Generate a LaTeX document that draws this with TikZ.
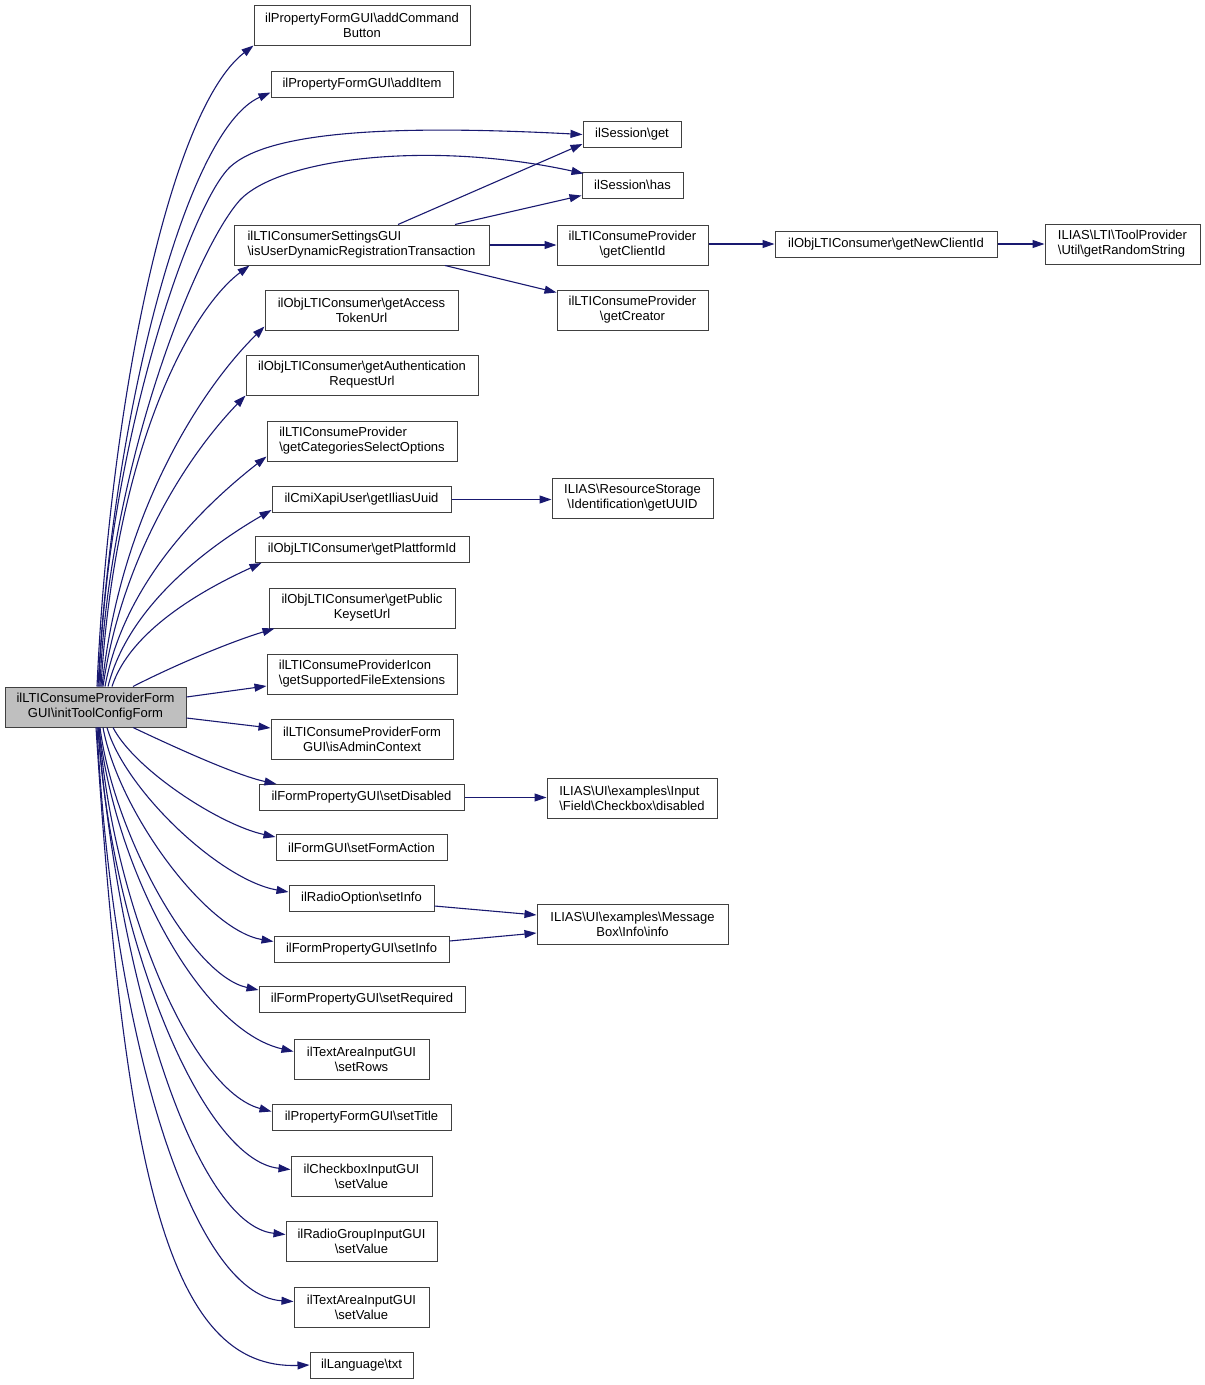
\documentclass[tikz,border=0pt]{standalone}
\usepackage{fontspec}
\setmainfont{Liberation Sans}
\usetikzlibrary{arrows.meta}

\definecolor{callblue}{HTML}{191970}
\newcommand{\bsl}{\textbackslash}

\begin{document}
\begin{tikzpicture}[x=1pt,y=-1pt,>={Triangle[length=12pt,width=8pt]}]

	\tikzstyle{fn}    = [rectangle, draw=black!75, line width=1pt, fill=white, inner sep=0pt, minimum height=26pt, font=\fontsize{13}{15}\selectfont, align=center]
	\tikzstyle{fn2}   = [fn, minimum height=40pt]
	\tikzstyle{call}  = [->, draw=callblue, line width=1.1pt]

	\useasboundingbox (0,0) rectangle (1205,1385);

	% caller
	\node [fn2, fill=black!25, minimum width=181pt] (main) at (95.5,707) {ilLTIConsumeProviderForm\\GUI\bsl initToolConfigForm};

	% callees
	\node [fn2, minimum width=216pt] (cmdbtn)   at (362,25)     {ilPropertyFormGUI\bsl addCommand\\Button};
	\node [fn,  minimum width=182pt] (additem)  at (362,84)     {ilPropertyFormGUI\bsl addItem};
	\node [fn2, minimum width=255pt, align=left] (isdyn) at (361.5,245) {ilLTIConsumerSettingsGUI\\\bsl isUserDynamicRegistrationTransaction};
	\node [fn2, minimum width=193pt] (token)    at (361.5,310)  {ilObjLTIConsumer\bsl getAccess\\TokenUrl};
	\node [fn2, minimum width=232pt] (auth)     at (362,375)    {ilObjLTIConsumer\bsl getAuthentication\\RequestUrl};
	\node [fn2, minimum width=190pt, align=left] (categ) at (362,441) {ilLTIConsumeProvider\\\bsl getCategoriesSelectOptions};
	\node [fn,  minimum width=179pt] (uuid)     at (361.5,499.5) {ilCmiXapiUser\bsl getIliasUuid};
	\node [fn,  minimum width=214pt] (platt)    at (362,549.5)  {ilObjLTIConsumer\bsl getPlattformId};
	\node [fn2, minimum width=186pt] (keyset)   at (362,608)    {ilObjLTIConsumer\bsl getPublic\\KeysetUrl};
	\node [fn2, minimum width=190pt, align=left] (fileext) at (362,674) {ilLTIConsumeProviderIcon\\\bsl getSupportedFileExtensions};
	\node [fn2, minimum width=182pt] (admin)    at (362,739)    {ilLTIConsumeProviderForm\\GUI\bsl isAdminContext};
	\node [fn,  minimum width=205pt] (setdis)   at (361.5,797.5) {ilFormPropertyGUI\bsl setDisabled};
	\node [fn,  minimum width=171pt] (formact)  at (361.5,847.5) {ilFormGUI\bsl setFormAction};
	\node [fn,  minimum width=145pt] (rsetinfo) at (361.5,898.5) {ilRadioOption\bsl setInfo};
	\node [fn,  minimum width=175pt] (fsetinfo) at (361.5,949)  {ilFormPropertyGUI\bsl setInfo};
	\node [fn,  minimum width=206pt] (setreq)   at (362,999.5)  {ilFormPropertyGUI\bsl setRequired};
	\node [fn2, minimum width=135pt] (setrows)  at (361.5,1059) {ilTextAreaInputGUI\\\bsl setRows};
	\node [fn,  minimum width=179pt] (settitle) at (361.5,1117) {ilPropertyFormGUI\bsl setTitle};
	\node [fn2, minimum width=141pt] (cbvalue)  at (361.5,1176) {ilCheckboxInputGUI\\\bsl setValue};
	\node [fn2, minimum width=151pt] (rgvalue)  at (361.5,1241) {ilRadioGroupInputGUI\\\bsl setValue};
	\node [fn2, minimum width=135pt] (tavalue)  at (361.5,1307) {ilTextAreaInputGUI\\\bsl setValue};
	\node [fn,  minimum width=103pt] (txt)      at (361.5,1365) {ilLanguage\bsl txt};

	% second level
	\node [fn,  minimum width=98pt]  (sget)     at (632,134.5)  {ilSession\bsl get};
	\node [fn,  minimum width=101pt] (shas)     at (632.5,185)  {ilSession\bsl has};
	\node [fn2, minimum width=151pt] (getclient) at (632.5,245) {ilLTIConsumeProvider\\\bsl getClientId};
	\node [fn2, minimum width=151pt] (creator)  at (632.5,310)  {ilLTIConsumeProvider\\\bsl getCreator};
	\node [fn2, minimum width=161pt] (getuuid)  at (632.5,498)  {ILIAS\bsl ResourceStorage\\\bsl Identification\bsl getUUID};
	\node [fn2, minimum width=170pt, align=left] (disabled) at (632,798) {ILIAS\bsl UI\bsl examples\bsl Input\\\bsl Field\bsl Checkbox\bsl disabled};
	\node [fn2, minimum width=191pt] (info)     at (632.5,924.5) {ILIAS\bsl UI\bsl examples\bsl Message\\Box\bsl Info\bsl info};
	\node [fn,  minimum width=222pt] (newclient) at (886,244)   {ilObjLTIConsumer\bsl getNewClientId};
	\node [fn2, minimum width=155pt, align=left] (randstr) at (1122.5,244) {ILIAS\bsl LTI\bsl ToolProvider\\\bsl Util\bsl getRandomString};

	% calls going up
	\draw [call] ([xshift=1.5pt]main.north) .. controls (110,400) and (170,110) .. (cmdbtn.south west);
	\draw [call] ([xshift=2.5pt]main.north) .. controls (112,420) and (185,130) .. ([yshift=5pt]additem.south west);
	\draw [call] ([xshift=3.5pt]main.north) .. controls (106,450) and (190,205) .. (230,167)
		.. controls (270,130) and (400,125) .. (sget.west);
	\draw [call] ([xshift=4.5pt]main.north) .. controls (108,470) and (195,250) .. (240,200)
		.. controls (280,158) and (430,140) .. ([xshift=2pt,yshift=-2pt]shas.north west);
	\draw [call] ([xshift=5.5pt]main.north) .. controls (115,450) and (190,310) .. ([xshift=16pt]isdyn.south west);
	\draw [call] ([xshift=6.5pt]main.north) .. controls (120,515) and (200,390) .. ([yshift=4pt]token.south west);
	\draw [call] ([xshift=7.5pt]main.north) .. controls (122,556) and (188,455) .. (auth.south west);
	\draw [call] ([xshift=9.5pt]main.north) .. controls (124,583) and (202,507) .. ([yshift=5pt]categ.south west);
	\draw [call] ([xshift=12.5pt]main.north) .. controls (128,607) and (206,548) .. ([yshift=3pt]uuid.south west);
	\draw [call] ([xshift=16.5pt]main.north) .. controls (130,631) and (202,590) .. ([xshift=7pt]platt.south west);
	\draw [call] ([xshift=37.5pt]main.north) .. controls (175,665) and (230,642) .. ([xshift=6pt]keyset.south west);
	\draw [call] ([yshift=10pt]main.east) -- ([yshift=-12pt]fileext.west);
	\draw [call] ([yshift=-11pt]main.east) -- ([yshift=11pt]admin.west);

	% calls going down
	\draw [call] ([xshift=37.5pt]main.south) .. controls (170,745) and (235,775) .. ([xshift=18pt]setdis.north west);
	\draw [call] ([xshift=17.5pt]main.south) .. controls (135,770) and (220,825) .. ([yshift=-3pt]formact.north west);
	\draw [call] ([xshift=11.5pt]main.south) .. controls (125,790) and (220,880) .. ([yshift=-7pt]rsetinfo.north west);
	\draw [call] ([xshift=7.5pt]main.south) .. controls (118,810) and (205,930) .. ([yshift=-6pt]fsetinfo.north west);
	\draw [call] ([xshift=4.5pt]main.south) .. controls (113,830) and (190,975) .. ([yshift=-4pt]setreq.north west);
	\draw [call] ([xshift=3.5pt]main.south) .. controls (115,870) and (200,1030) .. ([yshift=-13pt]setrows.north west);
	\draw [call] ([xshift=3.5pt]main.south) .. controls (112,900) and (190,1090) .. ([yshift=-8pt]settitle.north west);
	\draw [call] ([xshift=2.5pt]main.south) .. controls (110,930) and (200,1160) .. ([yshift=-14pt]cbvalue.north west);
	\draw [call] ([xshift=2.5pt]main.south) .. controls (118,980) and (195,1225) .. ([yshift=-14pt]rgvalue.north west);
	\draw [call] ([xshift=1.5pt]main.south) .. controls (112,1030) and (190,1295) .. ([yshift=-15pt]tavalue.north west);
	\draw [call] ([xshift=0.5pt]main.south) .. controls (125,1180) and (170,1370) .. (txt.west);

	% second level calls
	\draw [call] ([xshift=36.5pt]isdyn.north) -- ([yshift=4pt]sget.south west);
	\draw [call] ([xshift=93.5pt]isdyn.north) -- ([yshift=3pt]shas.south west);
	\draw [call] (isdyn.east) -- (getclient.west);
	\draw [call] ([xshift=83.5pt]isdyn.south) -- ([yshift=-3pt]creator.north west);
	\draw [call] (getclient.east |- newclient.west) -- (newclient.west);
	\draw [call] (newclient.east) -- (randstr.west);
	\draw [call] (uuid.east) -- (uuid.east -| getuuid.west);
	\draw [call] (setdis.east) -- (setdis.east -| disabled.west);
	\draw [call] ([yshift=-7.5pt]rsetinfo.east) -- ([yshift=9.5pt]info.west);
	\draw [call] ([yshift=8pt]fsetinfo.east) -- ([yshift=-8.5pt]info.west);

\end{tikzpicture}
\end{document}
